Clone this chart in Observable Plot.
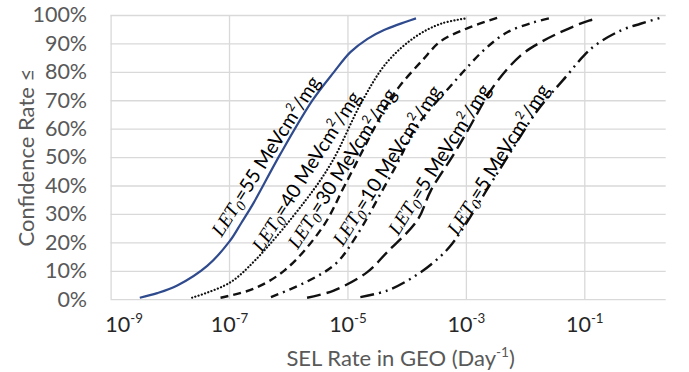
<!DOCTYPE html>
<html><head><meta charset="utf-8">
<script src="https://cdn.jsdelivr.net/npm/d3@7"></script>
<script src="https://cdn.jsdelivr.net/npm/@observablehq/plot@0.6"></script>
<style>body{margin:0;background:#fff}#chart{width:689px;height:372px}</style>
</head><body><div id="chart"></div>
<script>
// ---- tick values and labels ----
const xTickValues = [1e-9, 1e-7, 1e-5, 1e-3, 1e-1];
const xTickLabels = ["10^-9", "10^-7", "10^-5", "10^-3", "10^-1"];
const yTickValues = [0, 10, 20, 30, 40, 50, 60, 70, 80, 90, 100];
const yTickLabels = ["0%", "10%", "20%", "30%", "40%", "50%", "60%", "70%", "80%", "90%", "100%"];
const xTitle = "SEL Rate in GEO (Day^-1)";
const yTitle = "Confidence Rate \u2264";

// ---- series (x = SEL rate per day, y = confidence %) ----
const seriesNames = ["LET_0=55 MeVcm^2/mg", "LET_0=40 MeVcm^2/mg", "LET_0=30 MeVcm^2/mg",
                     "LET_0=10 MeVcm^2/mg", "LET_0=5 MeVcm^2/mg", "LET_0=5 MeVcm^2/mg "];
const let55X = [3.05e-9, 6.03e-9, 1.31e-8, 4.20e-8, 1.0e-7, 1.58e-7, 2.51e-7, 7.24e-7, 2.51e-6, 5.75e-6, 1.10e-5, 2.14e-5, 4.07e-5, 1.41e-4];
const let55Y = [0.7, 2.3, 5, 11.9, 20.5, 27, 33.8, 51.3, 70.1, 80, 87.1, 91.8, 94.9, 99.0];
const let40X = [2.34e-8, 9.73e-8, 2.69e-7, 1.92e-6, 5.37e-6, 1.70e-5, 4.47e-5, 1.35e-4, 3.72e-4, 1.035e-3];
const let40Y = [0.7, 5.8, 13.8, 34.9, 48.5, 69.5, 83.3, 92.4, 97.1, 99.05];
const let30X = [7.05e-8, 2.51e-7, 8.71e-7, 3.72e-6, 9.12e-6, 4.32e-5, 7.24e-5, 1.80e-4, 3.72e-4, 1.035e-3, 3.31e-3];
const let30Y = [0.7, 3.8, 10.5, 25.5, 40.8, 67.7, 74.8, 84.2, 91.0, 95.5, 99.2];
const let10X = [5.01e-7, 2.09e-6, 6.17e-6, 1.35e-5, 3.80e-5, 7.24e-5, 1.38e-4, 6.17e-4, 9.77e-4, 2.09e-3, 4.90e-3, 1.38e-2, 2.82e-2];
const let10Y = [0.9, 6.5, 12.6, 22, 38.4, 49, 60.5, 76.5, 81.2, 88.3, 94.1, 97.6, 99.3];
const let5aX = [2.04e-6, 5.75e-6, 2.12e-5, 4.57e-5, 1.48e-4, 2.51e-4, 6.17e-4, 1.05e-3, 2.95e-3, 8.22e-3, 1.80e-2, 4.47e-2, 0.1175, 0.162];
const let5aY = [0.7, 3.2, 9.7, 16.7, 27.9, 38.4, 51.3, 59.5, 75.4, 85.9, 90.6, 94.7, 98.2, 98.8];
const let5bX = [1.62e-5, 4.57e-5, 1.15e-4, 2.82e-4, 5.75e-4, 2.57e-3, 6.31e-3, 1.585e-2, 5.01e-2, 9.66e-2, 0.162, 0.403, 0.871, 1.905];
const let5bY = [0.9, 3.2, 7.4, 13.2, 19.7, 40.8, 53.7, 66.6, 78.9, 85.9, 90, 94.7, 97.1, 99.2];

// ---- annotation anchors (data coordinates) ----
const labelX = [4.14e-7, 2.0e-6, 8.02e-6, 4.61e-5, 3.52e-4, 3.50e-3];
const labelY = [50.4, 45.1, 46.1, 47.2, 49.3, 49.3];

// ---- styles ----
const seriesX = [let55X, let40X, let30X, let10X, let5aX, let5bX];
const seriesY = [let55Y, let40Y, let30Y, let10Y, let5aY, let5bY];
const lineStyles = [
  {stroke: "#2f4b8e", strokeWidth: 2.2, strokeDasharray: null, strokeLinecap: "butt"},
  {stroke: "#111", strokeWidth: 2.2, strokeDasharray: "0.1 3.3", strokeLinecap: "round"},
  {stroke: "#111", strokeWidth: 2.4, strokeDasharray: "8 5", strokeLinecap: "butt"},
  {stroke: "#111", strokeWidth: 2.4, strokeDasharray: "8 5 2 5", strokeLinecap: "butt"},
  {stroke: "#111", strokeWidth: 2.4, strokeDasharray: "14 6", strokeLinecap: "butt"},
  {stroke: "#111", strokeWidth: 2.4, strokeDasharray: "14 5 2 5 2 5", strokeLinecap: "butt"}
];

const rows = seriesNames.flatMap((name, k) => seriesX[k].map((x, i) => ({series: k, x, y: seriesY[k][i]})));
const labels = seriesNames.map((name, k) => ({text: name.trim(), x: labelX[k], y: labelY[k]}));

const grid = {stroke: "#d9d9d9", strokeOpacity: 1, strokeWidth: 1.3};

const svg = Plot.plot({
  width: 689, height: 372,
  marginLeft: 110.6, marginRight: 23.3, marginTop: 15, marginBottom: 72.8,
  style: {fontFamily: "Lato, 'Open Sans', sans-serif", fontSize: "21px", background: "white", color: "#595959"},
  x: {type: "log", domain: [1e-9, 2.37]},
  y: {domain: [0, 100]},
  marks: [
    Plot.gridY(yTickValues, grid),
    Plot.gridX(xTickValues, grid),
    Plot.axisY(yTickValues, {tickSize: 0, tickPadding: 24, fill: "#595959", fontSize: 21.5, label: null,
      tickFormat: d => yTickLabels[yTickValues.indexOf(d)]}),
    Plot.axisX(xTickValues, {tickSize: 0, tickPadding: 16.6, fill: "#262626", fontSize: 21.5, label: null,
      tickFormat: d => xTickLabels[xTickValues.indexOf(d)]}),
    ...lineStyles.map((st, k) => Plot.line(rows.filter(r => r.series === k), {x: "x", y: "y", curve: "catmull-rom", ...st})),
    Plot.text(labels, {x: "x", y: "y", text: "text", rotate: -57.5, fontSize: 19.5, fill: "#000"}),
    Plot.text([yTitle], {frameAnchor: "left", textAnchor: "middle", lineAnchor: "middle", dx: -84, rotate: -90, fill: "#595959", fontSize: 22}),
    Plot.text([xTitle], {frameAnchor: "bottom", textAnchor: "middle", lineAnchor: "middle", dx: 12, dy: 59, fill: "#595959", fontSize: 22})
  ]
});
document.getElementById("chart").append(svg);

// ---- rich text: italic LET, subscripts and superscripts ----
const NS = "http://www.w3.org/2000/svg";
function enrich(el) {
  const s = el.textContent;
  if (!/[_^]|LET/.test(s)) return;
  const fs = parseFloat(getComputedStyle(el).fontSize) || 21;
  const tokens = s.split(/(LET|_[0-9]|\^-?[0-9]+)/).filter(t => t !== "");
  while (el.firstChild) el.removeChild(el.firstChild);
  let shift = 0;
  for (const t of tokens) {
    const ts = document.createElementNS(NS, "tspan");
    let txt = t, size = fs, target = 0;
    if (t === "LET") {
      ts.setAttribute("font-family", "'Liberation Serif', 'DejaVu Serif', serif");
      ts.setAttribute("font-style", "italic");
    } else if (t[0] === "_") {
      txt = t.slice(1); size = fs * 0.75; target = fs * 0.2;
      ts.setAttribute("font-family", "'Liberation Serif', 'DejaVu Serif', serif");
      ts.setAttribute("font-style", "italic");
    } else if (t[0] === "^") {
      txt = t.slice(1); size = fs * 0.62; target = -fs * 0.42;
    }
    ts.setAttribute("font-size", size);
    ts.setAttribute("dy", target - shift);
    shift = target;
    ts.textContent = txt;
    el.appendChild(ts);
  }
}
d3.select(svg).selectAll("text").each(function () { enrich(this); });
// first x tick label sits a little right of its gridline in the original
const xt = d3.select(svg).selectAll('g[aria-label="x-axis tick label"] text').nodes();
if (xt.length) xt[0].setAttribute("dx", 13);
</script></body></html>
